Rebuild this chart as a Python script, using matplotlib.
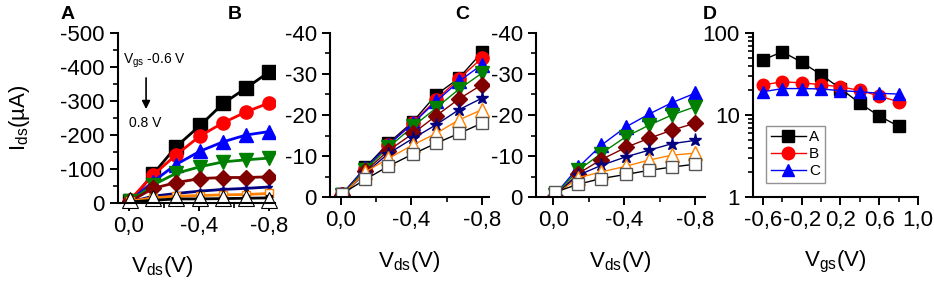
import matplotlib
matplotlib.use("Agg")
import matplotlib.pyplot as plt
from matplotlib.ticker import FixedLocator, FixedFormatter, MultipleLocator, LogLocator, NullFormatter

plt.rcParams['font.family'] = ['Liberation Sans', 'DejaVu Sans']

# ---------------- data ----------------
vds = [-0.01, -0.14, -0.27, -0.41, -0.54, -0.67, -0.80]

# Panel A  (Ids in uA), Vgs from -0.6 V (top) to 0.8 V (bottom)
A_sq = [-5, -85, -165, -229, -293, -338, -385]
A_circ = [-10, -82, -141, -198, -236, -268, -294]
A_tri = [-5, -63, -113, -153, -180, -200, -210]
A_dtri = [-5, -53, -87, -107, -121, -127, -132]
A_dia = [-5, -43, -60, -72, -75, -75, -77]
A_star = [-3, -20, -28, -35, -40, -43, -47]
A_orng = [-5, -15, -20, -22, -24, -25, -28]
A_osq = [-3, -8, -12, -12, -13, -14, -15]
A_wtri = [-8, -14, -14, -14, -14, -14, -8]

# Panel B
B_sq = [-0.8, -7.2, -13.1, -18.4, -24.9, -29.0, -35.3]
B_circ = [-0.8, -6.8, -12.7, -18.1, -23.7, -28.8, -33.9]
B_tri = [-0.8, -7.0, -12.7, -18.0, -23.3, -28.2, -32.3]
B_dtri = [-0.6, -6.7, -12.1, -17.2, -21.7, -26.3, -30.2]
B_dia = [-0.5, -6.3, -11.3, -15.5, -19.8, -23.9, -27.4]
B_star = [-0.5, -5.8, -10.6, -14.3, -17.6, -21.3, -24.1]
B_otri = [-0.5, -6.1, -9.4, -12.7, -15.5, -18.8, -21.3]
B_osq = [-0.8, -4.3, -7.5, -10.5, -13.1, -15.5, -18.0]

# Panel C
C_tri = [-0.6, -7.2, -12.6, -17.1, -20.2, -23.0, -25.3]
C_dtri = [-0.5, -6.5, -10.6, -14.7, -17.5, -20.0, -22.0]
C_dia = [-0.3, -5.7, -9.1, -12.1, -14.3, -16.3, -18.0]
C_star = [-0.5, -5.3, -7.7, -9.8, -11.4, -13.0, -13.8]
C_otri = [-0.4, -4.7, -6.1, -7.5, -9.0, -10.2, -10.7]
C_osq = [-1.2, -3.1, -4.5, -5.5, -6.5, -7.3, -8.0]

# Panel D
vgs = [-0.6, -0.4, -0.2, 0.0, 0.2, 0.4, 0.6, 0.8]
D_A = [47, 59, 44, 31, 21, 13.9, 9.7, 7.3]
D_B = [23.2, 25.5, 24.6, 23.5, 22, 20, 17, 14.5]
D_C = [19.2, 21, 21, 20.8, 19.8, 19.2, 18.4, 18]
D_names = ['A', 'B', 'C']

# tick labels
vds_ticks = [0.0, -0.4, -0.8]
vds_labels = ['0,0', '-0,4', '-0,8']
A_yticks = [0, -100, -200, -300, -400, -500]
A_ylabels = ['0', '-100', '-200', '-300', '-400', '-500']
BC_yticks = [0, -10, -20, -30, -40]
BC_ylabels = ['0', '-10', '-20', '-30', '-40']
D_xticks = [-0.6, -0.2, 0.2, 0.6, 1.0]
D_xlabels = ['-0,6', '-0,2', '0,2', '0,6', '1,0']
D_yticks = [1, 10, 100]
D_ylabels = ['1', '10', '100']

# ---------------- figure ----------------
W, H = 934, 284
fig = plt.figure(figsize=(W / 100, H / 100), dpi=100)


def px_axes(l, r, t, b):
    return fig.add_axes([l / W, 1 - b / H, (r - l) / W, (b - t) / H])


TICK_FS = 16
LAB_FS = 16


def style(ax):
    for s in ['top', 'right']:
        ax.spines[s].set_visible(False)
    for s in ['left', 'bottom']:
        ax.spines[s].set_linewidth(1.5)
    ax.tick_params(which='major', direction='out', length=5.5, width=1.4,
                   labelsize=TICK_FS, pad=4)
    ax.tick_params(which='minor', direction='out', length=3.5, width=1.2)
    ax.patch.set_alpha(0)


def vds_axis(ax):
    ax.xaxis.set_major_locator(FixedLocator(vds_ticks))
    ax.xaxis.set_major_formatter(FixedFormatter(vds_labels))
    ax.xaxis.set_minor_locator(MultipleLocator(0.2))
    ax.set_xlabel('V$_{\\mathregular{ds}}$(V)', fontsize=LAB_FS, labelpad=13)


styles8 = [
    dict(color='black', marker='s', mfc='black', mec='black'),
    dict(color='red', marker='o', mfc='red', mec='red'),
    dict(color='blue', marker='^', mfc='blue', mec='blue'),
    dict(color='green', marker='v', mfc='green', mec='green'),
    dict(color='#800000', marker='D', mfc='#800000', mec='#800000'),
    dict(color='#000080', marker='*', mfc='#000080', mec='#000080'),
    dict(color='#ff8000', marker='^', mfc='white', mec='#ff8000'),
    dict(color='black', marker='s', mfc='white', mec='#555555'),
]

# ---- Panel A ----
axA = px_axes(118, 275, 33, 203)
style(axA)
A_series = [A_sq, A_circ, A_tri, A_dtri, A_dia]
for ys, st in zip(A_series, styles8[:5]):
    axA.plot(vds, ys, lw=2.0, ms=9.5 if st['marker'] != 'D' else 8, **st)
axA.plot(vds, A_star, color='#000080', lw=2.0, marker='*', ms=5)
axA.plot(vds, A_orng, color='#ff8000', lw=2.0, marker='s', ms=6, mfc='white', mec='#ff8000')
axA.plot(vds, A_osq, color='black', lw=2.0, marker='s', ms=4, mfc='white', mec='black')
axA.plot(vds, A_wtri, color='black', lw=0, marker='^', ms=11, mfc='white', mec='black', mew=0.8,
         clip_on=False)
axA.set_xlim(0.06, -0.835)
axA.set_ylim(0, -500)
axA.yaxis.set_major_locator(FixedLocator(A_yticks))
axA.yaxis.set_major_formatter(FixedFormatter(A_ylabels))
axA.yaxis.set_minor_locator(MultipleLocator(50))
vds_axis(axA)
axA.xaxis.set_label_coords(0.28, -0.30)
axA.set_ylabel('I$_{\\mathregular{ds}}$(\u00b5A)', fontsize=LAB_FS, labelpad=20)
axA.text(0.03, -409, 'V$_{\\mathregular{gs}}$ -0.6 V', fontsize=10, ha='left', va='baseline')
axA.annotate('', xy=(-0.10, -268), xytext=(-0.10, -376),
             arrowprops=dict(arrowstyle='-|>', color='black', lw=1.2, mutation_scale=12))
axA.text(-0.004, -224, '0.8 V', fontsize=10, ha='left', va='baseline')

# ---- Panel B ----
axB = px_axes(330, 489, 33, 197)
style(axB)
B_series = [B_sq, B_circ, B_tri, B_dtri, B_dia, B_star, B_otri, B_osq]
for ys, st in zip(B_series, styles8):
    ms = 9.5 if st['marker'] in ('o', '^', 'v', '*') else 8.5
    axB.plot(vds, ys, lw=1.0, ms=ms, mew=1.0, **st)
axB.set_xlim(0.06, -0.84)
axB.set_ylim(0, -40)
axB.yaxis.set_major_locator(FixedLocator(BC_yticks))
axB.yaxis.set_major_formatter(FixedFormatter(BC_ylabels))
axB.yaxis.set_minor_locator(MultipleLocator(5))
vds_axis(axB)

# ---- Panel C ----
axC = px_axes(536, 705, 33, 197)
style(axC)
C_series = [C_tri, C_dtri, C_dia, C_star, C_otri, C_osq]
for ys, st in zip(C_series, styles8[2:]):
    ms = 9.5 if st['marker'] in ('o', '^', 'v', '*') else 8.5
    axC.plot(vds, ys, lw=1.0, ms=ms, mew=1.0, **st)
axC.set_xlim(0.098, -0.857)
axC.set_ylim(0, -40)
axC.yaxis.set_major_locator(FixedLocator(BC_yticks))
axC.yaxis.set_major_formatter(FixedFormatter(BC_ylabels))
axC.yaxis.set_minor_locator(MultipleLocator(5))
vds_axis(axC)

# ---- Panel D ----
axD = px_axes(753, 918, 33, 197)
style(axD)
axD.set_yscale('log')
D_styles = [styles8[0], styles8[1], styles8[2]]
for ys, st, nm in zip([D_A, D_B, D_C], D_styles, D_names):
    axD.plot(vgs, ys, lw=1.0, ms=9, label=nm, **st)
axD.set_xlim(-0.703, 1.0)
axD.set_ylim(1, 100)
axD.xaxis.set_major_locator(FixedLocator(D_xticks))
axD.xaxis.set_major_formatter(FixedFormatter(D_xlabels))
axD.xaxis.set_minor_locator(MultipleLocator(0.2))
axD.yaxis.set_major_locator(FixedLocator(D_yticks))
axD.yaxis.set_major_formatter(FixedFormatter(D_ylabels))
axD.yaxis.set_minor_locator(LogLocator(base=10, subs=range(2, 10)))
axD.yaxis.set_minor_formatter(NullFormatter())
axD.set_xlabel('V$_{\\mathregular{gs}}$(V)', fontsize=LAB_FS, labelpad=13)
leg = axD.legend(loc='lower left', bbox_to_anchor=(0.08, 0.085), fontsize=11,
                 frameon=True, fancybox=False, handlelength=2.3, handletextpad=0.2,
                 borderpad=0.3, labelspacing=0.2, borderaxespad=0, markerscale=1.0)
leg.get_frame().set_edgecolor('#777777')
leg.get_frame().set_linewidth(1.0)

# panel letters
for x, lab in [(61, 'A'), (228, 'B'), (455, 'C'), (703, 'D')]:
    fig.text(x / W, 1 - 19 / H, lab, fontsize=14, fontweight='bold', ha='left', va='baseline')

fig.savefig('out.png', dpi=100)
